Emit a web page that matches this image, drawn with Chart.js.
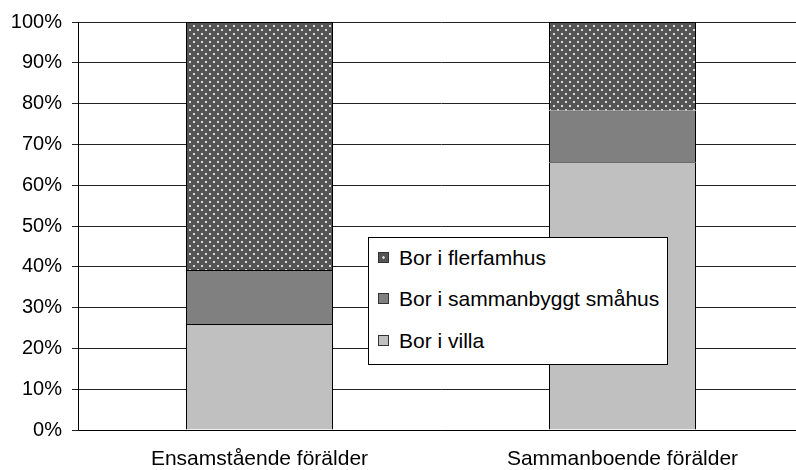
<!DOCTYPE html>
<html>
<head>
<meta charset="utf-8">
<script src="https://cdn.jsdelivr.net/npm/chart.js@4/dist/chart.umd.min.js"></script>
<style>
  html, body { margin: 0; padding: 0; overflow: hidden; background: #fff; }
  #wrap { position: relative; width: 804px; height: 470px; }
  #legend {
    position: absolute; left: 368px; top: 237px; width: 298px; height: 126px;
    background: #fff; border: 1px solid #000;
    font-family: "Liberation Sans", Arial, sans-serif; font-size: 21px; color: #000;
  }
  #legend .item { position: absolute; left: 9px; height: 24px; line-height: 24px; white-space: nowrap; }
  #legend .sw { position: absolute; left: 0; top: 6px; width: 9px; height: 9px; border: 1px solid #333; }
  #legend .lbl { position: absolute; left: 21px; top: 0; }
</style>
</head>
<body>
<div id="wrap">
  <canvas id="chart" width="804" height="470"></canvas>
  <div id="legend"></div>
</div>
<script>
/* data */
const categories = ["Ensamstående förälder", "Sammanboende förälder"];
const villa = [26.0, 65.6];
const sammanbyggt = [13.2, 12.7];
const flerfamhus = [60.8, 21.7];
const seriesNames = ["Bor i villa", "Bor i sammanbyggt småhus", "Bor i flerfamhus"];
const yTicks = [0, 10, 20, 30, 40, 50, 60, 70, 80, 90, 100];

// dotted fill for the top segment
function dotPattern(){
  const c = document.createElement("canvas");
  c.width = 8; c.height = 8;
  const g = c.getContext("2d");
  g.fillStyle = "#555555";
  g.fillRect(0, 0, 8, 8);
  g.fillStyle = "#d8d8d8";
  g.fillRect(1, 1, 2, 2);
  g.fillRect(5, 5, 2, 2);
  return g.createPattern(c, "repeat");
}
const dots = dotPattern();

const font = { family: "'Liberation Sans', Arial, sans-serif" };

new Chart(document.getElementById("chart"), {
  type: "bar",
  data: {
    labels: categories,
    datasets: [
      { label: seriesNames[0], data: villa, backgroundColor: "#c0c0c0", borderColor: "#000", borderWidth: 1 },
      { label: seriesNames[1], data: sammanbyggt, backgroundColor: "#808080", borderColor: "#000", borderWidth: 1 },
      { label: seriesNames[2], data: flerfamhus, backgroundColor: dots, borderColor: "#000", borderWidth: 1 }
    ]
  },
  options: {
    responsive: false,
    animation: false,
    layout: { padding: { left: 0, top: 7, right: 0, bottom: 0 } },
    datasets: { bar: { categoryPercentage: 1, barPercentage: 0.405 } },
    plugins: { legend: { display: false }, tooltip: { enabled: false } },
    scales: {
      x: {
        stacked: true,
        grid: { display: false },
        border: { display: true, color: "#000", width: 1 },
        ticks: { color: "#000", padding: 9, font: { ...font, size: 21 }, maxRotation: 0 },
        afterFit: s => { s.height = 40; }
      },
      y: {
        stacked: true,
        min: 0, max: 100,
        afterBuildTicks: s => { s.ticks = yTicks.map(v => ({ value: v })); },
        grid: { color: "#222", lineWidth: 1, tickLength: 6, tickColor: "#222" },
        border: { display: true, color: "#000", width: 1 },
        ticks: { color: "#000", padding: 10, font: { ...font, size: 20 }, callback: v => v + "%" },
        afterFit: s => { s.width = 78; }
      }
    }
  }
});

// legend box, listed top series first as in the picture
const legend = document.getElementById("legend");
const legendRows = [
  { name: seriesNames[2], fill: "#555555", dot: true },
  { name: seriesNames[1], fill: "#808080" },
  { name: seriesNames[0], fill: "#c0c0c0" }
];
const rowTops = [8, 49, 91];
legendRows.forEach((r, i) => {
  const item = document.createElement("div");
  item.className = "item";
  item.style.top = rowTops[i] + "px";
  const sw = document.createElement("span");
  sw.className = "sw";
  sw.style.background = r.fill;
  if (r.dot) sw.style.backgroundImage = "radial-gradient(circle, #ddd 1px, transparent 1.5px)";
  const lbl = document.createElement("span");
  lbl.className = "lbl";
  lbl.textContent = r.name;
  item.appendChild(sw);
  item.appendChild(lbl);
  legend.appendChild(item);
});
</script>
</body>
</html>
